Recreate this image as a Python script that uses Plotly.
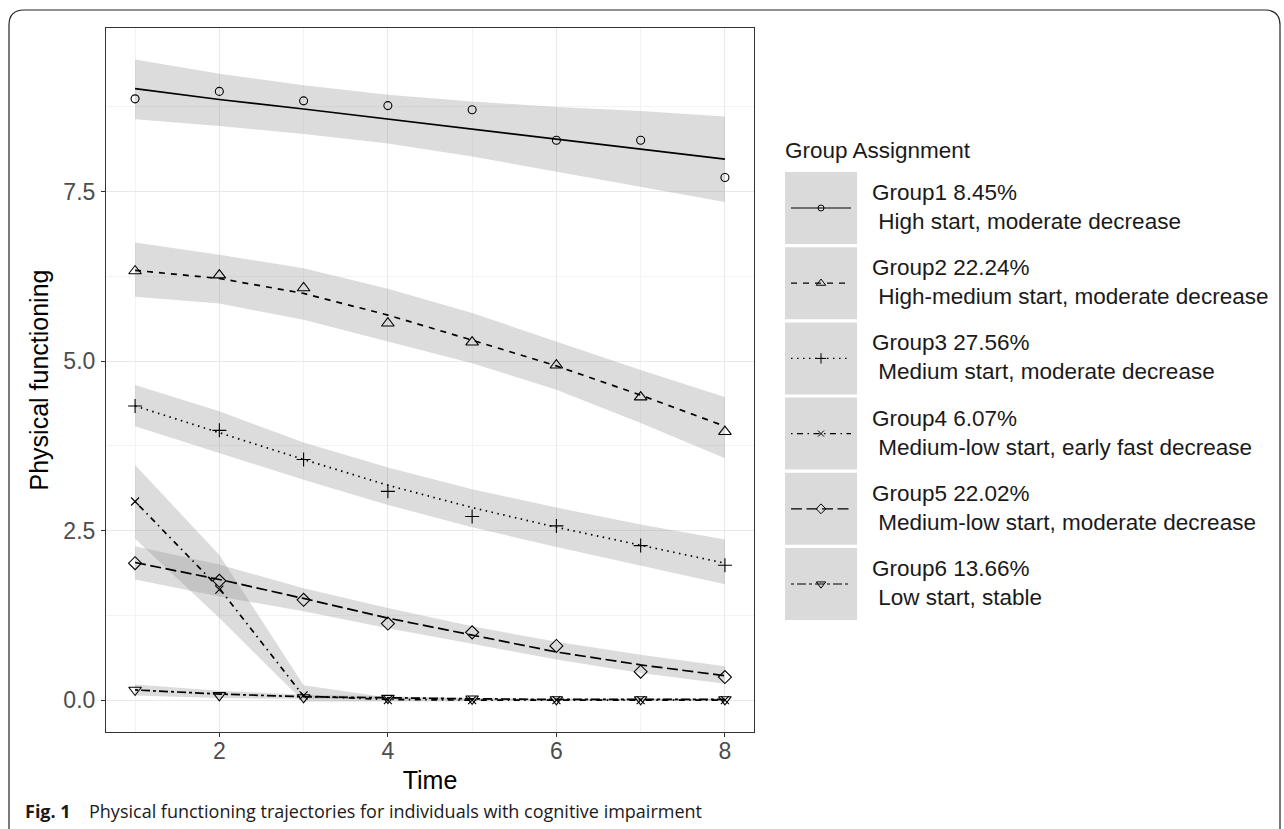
import plotly.graph_objects as go

# ---------------- data ----------------
time = [1, 2, 3, 4, 5, 6, 7, 8]

g1_obs = [8.87, 8.98, 8.84, 8.77, 8.71, 8.26, 8.26, 7.71]
g1_fit = [9.02, 8.86, 8.72, 8.57, 8.42, 8.28, 8.13, 7.98]
g1_up = [9.45, 9.24, 9.07, 8.93, 8.83, 8.75, 8.69, 8.61]
g1_lo = [8.57, 8.47, 8.35, 8.21, 8.02, 7.80, 7.57, 7.35]

g2_obs = [6.33, 6.27, 6.08, 5.56, 5.28, 4.94, 4.47, 3.96]
g2_fit = [6.34, 6.22, 6.00, 5.68, 5.31, 4.93, 4.50, 4.04]
g2_up = [6.75, 6.57, 6.37, 6.07, 5.71, 5.29, 4.87, 4.47]
g2_lo = [5.95, 5.85, 5.61, 5.29, 4.97, 4.58, 4.09, 3.57]

g3_obs = [4.34, 3.98, 3.55, 3.08, 2.71, 2.57, 2.28, 1.99]
g3_fit = [4.34, 3.94, 3.55, 3.17, 2.84, 2.55, 2.29, 2.02]
g3_up = [4.65, 4.26, 3.80, 3.43, 3.11, 2.84, 2.59, 2.37]
g3_lo = [4.04, 3.65, 3.25, 2.88, 2.55, 2.26, 1.98, 1.71]

g4_obs = [2.93, 1.63, 0.07, 0.00, 0.00, 0.00, 0.00, 0.00]
g4_fit = [2.93, 1.65, 0.06, 0.01, 0.00, 0.00, 0.00, 0.00]
g4_up = [3.47, 2.14, 0.22, 0.04, 0.02, 0.02, 0.02, 0.02]
g4_lo = [2.38, 1.21, -0.02, -0.02, -0.01, -0.01, -0.01, -0.01]

g5_obs = [2.02, 1.76, 1.48, 1.13, 1.00, 0.80, 0.42, 0.34]
g5_fit = [2.03, 1.78, 1.50, 1.21, 0.96, 0.71, 0.52, 0.36]
g5_up = [2.27, 2.00, 1.65, 1.36, 1.09, 0.86, 0.67, 0.50]
g5_lo = [1.78, 1.53, 1.31, 1.06, 0.83, 0.60, 0.40, 0.24]

g6_obs = [0.15, 0.07, 0.04, 0.03, 0.02, 0.01, 0.01, 0.01]
g6_fit = [0.15, 0.09, 0.05, 0.03, 0.02, 0.01, 0.01, 0.01]
g6_up = [0.23, 0.14, 0.08, 0.05, 0.03, 0.02, 0.02, 0.02]
g6_lo = [0.07, 0.03, 0.02, 0.01, 0.00, 0.00, 0.00, 0.00]

group_names = ["Group1 8.45%", "Group2 22.24%", "Group3 27.56%",
               "Group4 6.07%", "Group5 22.02%", "Group6 13.66%"]
group_desc = ["High start, moderate decrease",
              "High-medium start, moderate decrease",
              "Medium start, moderate decrease",
              "Medium-low start, early fast decrease",
              "Medium-low start, moderate decrease",
              "Low start, stable"]
x_ticks = [2, 4, 6, 8]
y_ticks = [0.0, 2.5, 5.0, 7.5]
legend_title = "Group Assignment"
x_title = "Time"
y_title = "Physical functioning"
caption_bold = "Fig. 1"
caption_text = "Physical functioning trajectories for individuals with cognitive impairment"

obs = [g1_obs, g2_obs, g3_obs, g4_obs, g5_obs, g6_obs]
fit = [g1_fit, g2_fit, g3_fit, g4_fit, g5_fit, g6_fit]
ups = [g1_up, g2_up, g3_up, g4_up, g5_up, g6_up]
los = [g1_lo, g2_lo, g3_lo, g4_lo, g5_lo, g6_lo]

# ---------------- styles ----------------
dashes = ["solid", "6px,6px", "1.5px,4.5px", "1.5px,4.5px,6px,4.5px",
          "11px,4.5px", "3px,3px,9px,3px"]
symbols = ["circle-open", "triangle-up-open", "cross-thin-open",
           "x-thin-open", "diamond-open", "triangle-down-open"]
msizes = [8, 11, 10, 8, 10, 11]
band_fill = "rgba(150,150,150,0.33)"
FONT = "Liberation Sans, Arial, sans-serif"

FW, FH = 1284, 829
PL, PR, PT, PB = 106, 754, 28, 732  # panel in pixels

fig = go.Figure()

# ribbons
for k in range(6):
    fig.add_trace(go.Scatter(x=time, y=los[k], mode="lines",
                             line=dict(width=0), hoverinfo="skip",
                             showlegend=False))
    fig.add_trace(go.Scatter(x=time, y=ups[k], mode="lines",
                             line=dict(width=0), fill="tonexty",
                             fillcolor=band_fill, hoverinfo="skip",
                             showlegend=False))
# fitted lines
for k in range(6):
    fig.add_trace(go.Scatter(x=time, y=fit[k], mode="lines",
                             line=dict(color="black", width=1.7, dash=dashes[k]),
                             showlegend=False, name=group_names[k]))
# observed points
for k in range(6):
    fig.add_trace(go.Scatter(x=time, y=obs[k], mode="markers",
                             marker=dict(symbol=symbols[k], size=msizes[k],
                                         color="black",
                                         line=dict(color="black", width=1.1)),
                             showlegend=False, name=group_names[k]))

# ---------------- manual legend (pixel overlay axes) ----------------
key_top0, key_step, key_h = 172, 75.2, 72
key_x0, key_x1 = 785, 857
shapes = []
annotations = []
for k in range(6):
    top = key_top0 + k * key_step
    cy = top + key_h / 2
    shapes.append(dict(type="rect", xref="x2", yref="y2", x0=key_x0, x1=key_x1,
                       y0=top, y1=top + key_h, fillcolor="#dadada",
                       line=dict(width=0), layer="below"))
    fig.add_trace(go.Scatter(x=[key_x0 + 6, key_x1 - 6], y=[cy, cy], mode="lines",
                             line=dict(color="black", width=1.2, dash=dashes[k]),
                             xaxis="x2", yaxis="y2", showlegend=False,
                             hoverinfo="skip"))
    fig.add_trace(go.Scatter(x=[(key_x0 + key_x1) / 2], y=[cy], mode="markers",
                             marker=dict(symbol=symbols[k], size=msizes[k] * 0.75,
                                         color="black",
                                         line=dict(color="black", width=1)),
                             xaxis="x2", yaxis="y2", showlegend=False,
                             hoverinfo="skip"))
    annotations.append(dict(xref="x2", yref="y2", x=870, y=cy - 1,
                            xanchor="left", yanchor="middle", align="left",
                            showarrow=False,
                            text=group_names[k] + "<br>\u00a0" + group_desc[k],
                            font=dict(family=FONT, size=22.5, color="#1a1a1a")))

annotations.append(dict(xref="x2", yref="y2", x=783, y=150, xanchor="left",
                        yanchor="middle", showarrow=False, text=legend_title,
                        font=dict(family=FONT, size=22.5, color="#1a1a1a")))
# caption
annotations.append(dict(xref="x2", yref="y2", x=23, y=811, xanchor="left",
                        yanchor="middle", showarrow=False,
                        text="<b>" + caption_bold + "</b>",
                        font=dict(family="Open Sans", size=18, color="#1a1a1a")))
annotations.append(dict(xref="x2", yref="y2", x=87, y=811, xanchor="left",
                        yanchor="middle", showarrow=False, text=caption_text,
                        font=dict(family="Open Sans", size=18, color="#1a1a1a")))

# rounded outer frame
shapes.append(dict(type="path", xref="x2", yref="y2",
                   path="M 9,900 L 9,25 Q 9,10 24,10 L 1265,10 Q 1280,10 1280,25 L 1280,900",
                   line=dict(color="#222222", width=1.2), layer="above"))

fig.update_layout(
    width=FW, height=FH,
    margin=dict(l=0, r=0, t=0, b=0),
    paper_bgcolor="white",
    plot_bgcolor="rgba(0,0,0,0)",
    showlegend=False,
    shapes=shapes,
    annotations=annotations,
    xaxis=dict(domain=[PL / FW, PR / FW], range=[0.655, 8.345],
               tickvals=x_ticks, ticks="outside", ticklen=4, tickwidth=1,
               tickcolor="#333333", ticklabelstandoff=-6,
               tickfont=dict(family=FONT, size=23, color="#4d4d4d"),
               showgrid=True, gridcolor="#e8e8e8", gridwidth=1.2,
               minor=dict(tickvals=[1, 3, 5, 7], showgrid=True,
                          gridcolor="#f3f3f3", gridwidth=1, ticks=""),
               showline=True, mirror=True, linecolor="#333333", linewidth=1.1,
               zeroline=False, automargin=False,
               title=dict(text=x_title, standoff=8,
                          font=dict(family=FONT, size=25, color="black"))),
    yaxis=dict(domain=[1 - PB / FH, 1 - PT / FH], range=[-0.47, 9.915],
               tickvals=y_ticks, tickformat=".1f", ticks="outside", ticklen=4,
               tickwidth=1, tickcolor="#333333", ticklabelstandoff=1,
               tickfont=dict(family=FONT, size=23, color="#4d4d4d"),
               showgrid=True, gridcolor="#e8e8e8", gridwidth=1.2,
               minor=dict(tickvals=[1.25, 3.75, 6.25, 8.75], showgrid=True,
                          gridcolor="#f3f3f3", gridwidth=1, ticks=""),
               showline=True, mirror=True, linecolor="#333333", linewidth=1.1,
               zeroline=False, automargin=False,
               title=dict(text=y_title, standoff=7,
                          font=dict(family=FONT, size=25, color="black"))),
    xaxis2=dict(domain=[0, 1], range=[0, FW], visible=False, anchor="y2",
                fixedrange=True),
    yaxis2=dict(domain=[0, 1], range=[FH, 0], visible=False, anchor="x2",
                fixedrange=True),
)

fig.write_html("out.html", config={"displayModeBar": False},
               post_script="document.body.style.margin='0';document.body.style.overflow='hidden';")
